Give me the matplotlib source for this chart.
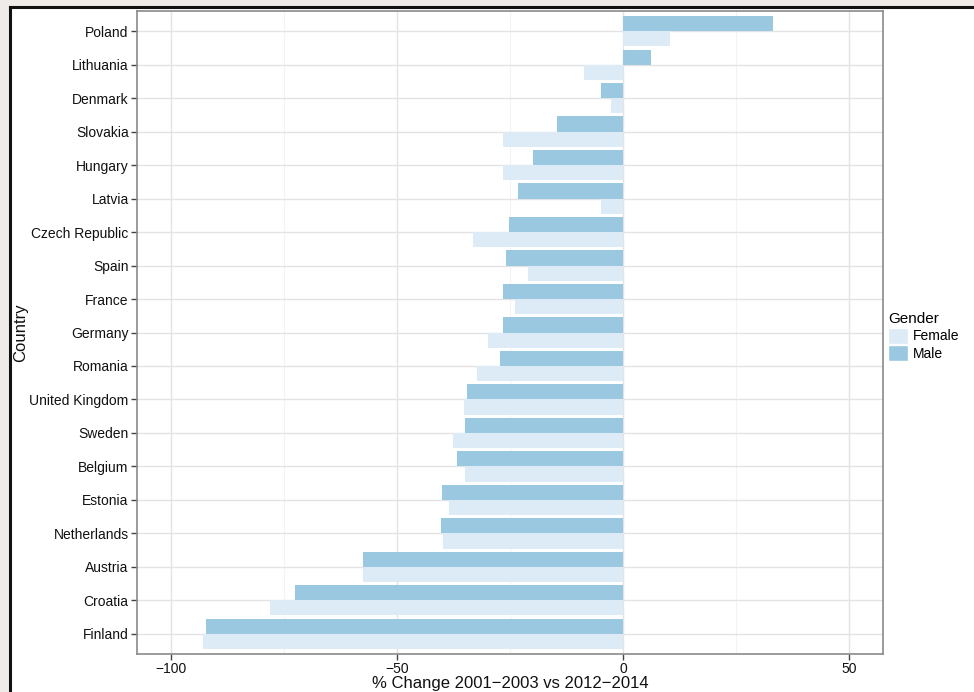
import matplotlib.pyplot as plt
import matplotlib.patches as mpatches
from matplotlib.lines import Line2D
import numpy as np

# Countries listed top to bottom
countries = ["Poland", "Lithuania", "Denmark", "Slovakia", "Hungary", "Latvia",
             "Czech Republic", "Spain", "France", "Germany", "Romania",
             "United Kingdom", "Sweden", "Belgium", "Estonia", "Netherlands",
             "Austria", "Croatia", "Finland"]
male = [33.2, 6.1, -4.8, -14.5, -20.0, -23.2, -25.2, -25.9, -26.6, -26.6, -27.2,
        -34.6, -35.0, -36.7, -40.0, -40.2, -57.5, -72.5, -92.2]
female = [10.4, -8.6, -2.7, -26.6, -26.6, -4.9, -33.2, -21.1, -24.0, -29.9, -32.4,
          -35.2, -37.7, -34.9, -38.4, -39.9, -57.5, -78.1, -93.0]
xticks = [-100, -50, 0, 50]
xminor = [-75, -25, 25]

male_col = "#9ac8e0"
female_col = "#dcebf6"

plt.rcParams['font.family'] = ['Liberation Sans', 'DejaVu Sans']

fig = plt.figure(figsize=(9.74, 6.92), dpi=100, facecolor="#efebe8")
W, H = 974.0, 692.0

# white sheet with a dark border on the left and top
fig.patches.append(mpatches.Rectangle((11 / W, 0), 1, 1 - 8 / H, transform=fig.transFigure,
                                      facecolor="white", edgecolor="none", zorder=-2))
fig.lines.append(Line2D([10 / W, 10 / W], [0, 1 - 7 / H], transform=fig.transFigure,
                        color="#111111", lw=2.2, zorder=-1))
fig.lines.append(Line2D([10 / W, 1], [1 - 7 / H, 1 - 7 / H], transform=fig.transFigure,
                        color="#111111", lw=2.2, zorder=-1))

ax = fig.add_axes([137 / W, 1 - 654 / H, 746 / W, 643 / H])
ax.set_facecolor("white")

n = len(countries)
pos = np.arange(n)[::-1]
bh = 0.45
ax.barh(pos + bh / 2, male, height=bh, color=male_col, zorder=3, label="Male")
ax.barh(pos - bh / 2, female, height=bh, color=female_col, zorder=3, label="Female")

ax.set_xlim(-107.5, 57.5)
ax.set_ylim(-0.6, n - 1 + 0.6)
ax.set_xticks(xticks)
ax.set_xticklabels(["\u2212100", "\u221250", "0", "50"])
ax.set_xticks(xminor, minor=True)
ax.set_yticks(pos)
ax.set_yticklabels(countries)

ax.grid(True, which="major", color="#e3e3e3", lw=1.0, zorder=1)
ax.grid(True, which="minor", axis="x", color="#f3f3f3", lw=0.8, zorder=1)
ax.tick_params(which="major", length=4, width=1, color="#444444", labelsize=10,
               labelcolor="#111111", pad=2)
ax.tick_params(which="minor", length=0)
for s in ax.spines.values():
    s.set_color("#8a8a8a")
    s.set_linewidth(1.2)

ax.set_xlabel("% Change 2001\u22122003 vs 2012\u22122014", fontsize=12, color="#111111", labelpad=0)
ax.set_ylabel("Country", fontsize=12, color="#111111", labelpad=1)

handles = [mpatches.Patch(facecolor=female_col, edgecolor="white", label="Female"),
           mpatches.Patch(facecolor=male_col, edgecolor="white", label="Male")]
leg = fig.legend(handles=handles, title="Gender", loc="upper left",
                 bbox_to_anchor=(884 / W, 1 - 308 / H), frameon=False,
                 fontsize=10, title_fontsize=11, handlelength=1.45, handleheight=1.4,
                 labelspacing=0.1, handletextpad=0.3, borderaxespad=0, borderpad=0.3)
leg._legend_box.align = "left"

fig.savefig("out.png", dpi=100, facecolor=fig.get_facecolor())
